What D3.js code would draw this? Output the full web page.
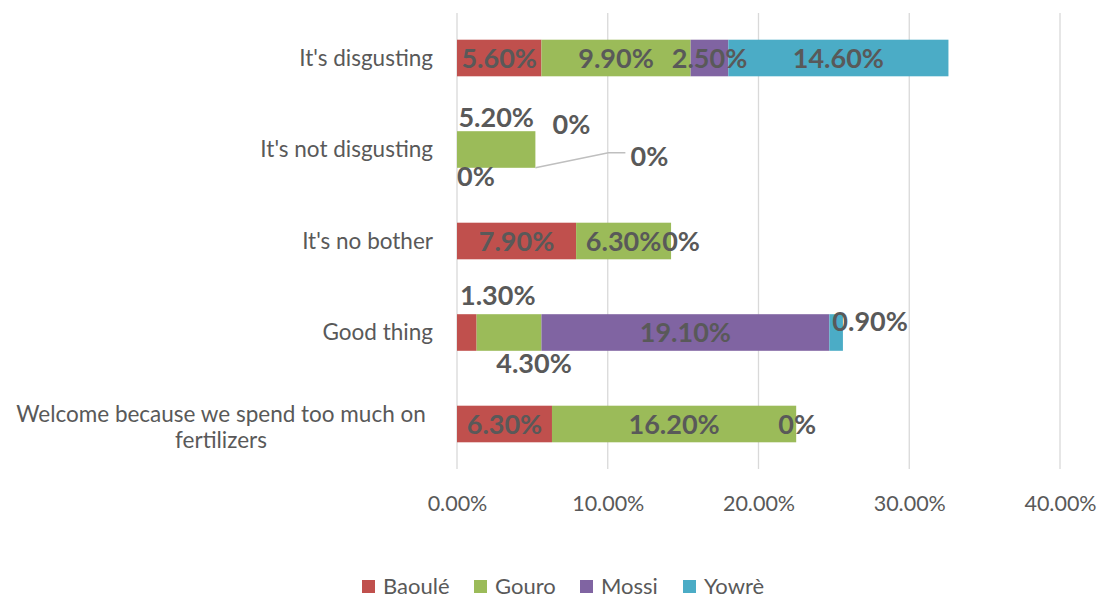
<!DOCTYPE html>
<html><head><meta charset="utf-8">
<script src="https://cdn.jsdelivr.net/npm/d3@7"></script>
<style>body{margin:0;background:#fff}svg{display:block}</style>
</head><body>
<svg id="c" width="1109" height="598"></svg>
<script>
const categories = ["It's disgusting", "It's not disgusting", "It's no bother", "Good thing", "Welcome because we spend too much on fertilizers"];
const seriesNames = ["Baoulé", "Gouro", "Mossi", "Yowrè"];
const baoule = [5.6, 0, 7.9, 1.3, 6.3];
const gouro = [9.9, 5.2, 6.3, 4.3, 16.2];
const mossi = [2.5, 0, 0, 19.1, 0];
const yowre = [14.6, 0, null, 0.9, null];
const tickValues = [0, 10, 20, 30, 40];
const colors = ["#C0504D", "#9BBB59", "#8064A2", "#4BACC6"];

const seriesValues = [baoule, gouro, mossi, yowre];
const font = "Lato, 'Open Sans', sans-serif";
const svg = d3.select("#c");
const x = d3.scaleLinear().domain([0, 40]).range([457, 1060]);
const y = d3.scaleBand().domain(categories).range([12.25, 469.75]).paddingInner(0.6).paddingOuter(0.3);

// gridlines
svg.append("g").selectAll("line").data(tickValues).join("line")
  .attr("x1", d => x(d)).attr("x2", d => x(d)).attr("y1", 13).attr("y2", 469)
  .attr("stroke", "#d9d9d9").attr("stroke-width", 1.3);

// axis labels
const xAxis = d3.axisBottom(x).tickValues(tickValues).tickSize(0).tickFormat(d => d.toFixed(2) + "%");
const gx = svg.append("g").attr("transform", "translate(0,503)").call(xAxis);
gx.select(".domain").remove();
gx.selectAll("text").attr("font-family", font).attr("font-size", 21.5).attr("fill", "#595959").attr("y", 0).attr("dy", "0.35em");

// category labels
const gy = svg.append("g");
categories.forEach(c => {
  const cy = y(c) + y.bandwidth() / 2;
  if (c.startsWith("Welcome")) {
    const t = gy.append("text").attr("text-anchor", "middle").attr("font-family", font).attr("font-size", 22.5).attr("fill", "#595959");
    t.append("tspan").attr("x", 221).attr("y", cy - 10).attr("dy", "0.35em").text("Welcome because we spend too much on");
    t.append("tspan").attr("x", 221).attr("y", cy + 16).attr("dy", "0.35em").text("fertilizers");
  } else {
    gy.append("text").attr("x", 433).attr("y", cy).attr("dy", "0.35em").attr("text-anchor", "end")
      .attr("font-family", font).attr("font-size", 22.5).attr("fill", "#595959").text(c);
  }
});

// stacked bars
const rows = categories.map((c, i) => {
  const o = { cat: c };
  seriesNames.forEach((s, j) => o[s] = seriesValues[j][i] == null ? 0 : seriesValues[j][i]);
  return o;
});
const stack = d3.stack().keys(seriesNames)(rows);
const gb = svg.append("g");
stack.forEach((layer, j) => {
  gb.selectAll(null).data(layer).join("rect")
    .attr("x", d => x(d[0])).attr("width", d => x(d[1]) - x(d[0]))
    .attr("y", d => y(d.data.cat)).attr("height", y.bandwidth())
    .attr("fill", colors[j]);
});

// label layout adjustments (dx, dy) in px, keyed "row-series"
const labelShift = {
  "1-0": [19, 27], "1-1": [0, -32], "1-2": [36, -25], "1-3": [114, 7],
  "2-2": [10, 0],
  "3-0": [31, -37], "3-1": [25, 31], "3-3": [34, -11],
  "4-2": [1, 0]
};
const gl = svg.append("g");
stack.forEach((layer, j) => {
  layer.forEach((d, i) => {
    const v = seriesValues[j][i];
    if (v == null) return;
    const sh = labelShift[i + "-" + j] || [0, 0];
    const cx = (x(d[0]) + x(d[1])) / 2 + sh[0];
    const cy = y(d.data.cat) + y.bandwidth() / 2 + sh[1];
    gl.append("text").attr("x", cx).attr("y", cy).attr("dy", "0.36em").attr("text-anchor", "middle")
      .attr("font-family", font).attr("font-size", 27).attr("font-weight", "bold").attr("fill", "#595959")
      .text(v === 0 ? "0%" : v.toFixed(2) + "%");
  });
});
// leader line for the shifted 0% label in "It's not disgusting"
{
  const r = categories[1];
  const xe = x(gouro[1]);
  const yb = y(r) + y.bandwidth();
  svg.append("polyline").attr("points", `${xe},${yb} ${xe + 73},${yb - 15} ${xe + 90},${yb - 15}`)
    .attr("fill", "none").attr("stroke", "#bfbfbf").attr("stroke-width", 1.5);
}

// legend
const legendX = [362, 474, 580, 683];
const lg = svg.append("g");
seriesNames.forEach((s, j) => {
  lg.append("rect").attr("x", legendX[j]).attr("y", 580).attr("width", 13).attr("height", 13).attr("fill", colors[j]);
  lg.append("text").attr("x", legendX[j] + 21).attr("y", 586).attr("dy", "0.35em")
    .attr("font-family", font).attr("font-size", 22).attr("fill", "#595959").text(s);
});
</script>
</body></html>
